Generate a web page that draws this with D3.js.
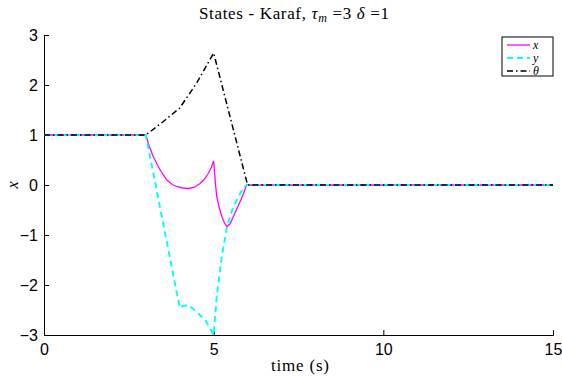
<!DOCTYPE html>
<html><head><meta charset="utf-8">
<script src="https://cdn.jsdelivr.net/npm/d3@7"></script>
<style>body{margin:0;background:#fff}</style>
</head><body>
<script>
const xTicks=[0,5,10,15];
const yTicks=[-3,-2,-1,0,1,2,3];
const seriesNames=["x","y","θ"];
const xT=[0,3,3.1,3.2,3.32,3.45,3.62,3.78,3.91,4.08,4.25,4.42,4.6,4.72,4.84,4.93,5,5.05,5.09,5.16,5.24,5.32,5.39,5.48,5.58,5.68,5.78,5.88,5.97,6.02,15];
const xV=[1,1,0.78,0.6,0.43,0.27,0.1,0.01,-0.03,-0.06,-0.07,-0.05,0.03,0.11,0.23,0.35,0.48,0.05,-0.23,-0.44,-0.63,-0.76,-0.83,-0.78,-0.63,-0.48,-0.33,-0.17,0,0,0];
const yT=[0,3,3.36,4,4.1,4.25,4.5,4.75,5,5.09,5.24,5.39,5.58,5.78,5.92,6,15];
const yV=[1,1,-0.24,-2.46,-2.42,-2.4,-2.54,-2.7,-3,-2.23,-1.43,-0.84,-0.43,-0.17,-0.03,0,0];
const thT=[0,3,3.5,4,4.5,5,6,15];
const thV=[1,1,1.26,1.54,2.04,2.64,0,0];

const W=562,H=379;
const m={l:44,r:9,t:35,b:44};
const serif="Liberation Serif, Times New Roman, serif";
const svg=d3.select("body").append("svg").attr("width",W).attr("height",H);
const x=d3.scaleLinear().domain([0,15]).range([m.l,W-m.r]);
const y=d3.scaleLinear().domain([-3,3]).range([H-m.b,m.t]);

const ax=svg.append("g").attr("transform",`translate(0,${H-m.b})`)
 .call(d3.axisBottom(x).tickValues(xTicks).tickSize(-5).tickPadding(6).tickFormat(d3.format("d")));
const ay=svg.append("g").attr("transform",`translate(${m.l},0)`)
 .call(d3.axisLeft(y).tickValues(yTicks).tickSize(-5).tickPadding(6).tickFormat(d=>d<0?"\u2212"+(-d):d));
[ax,ay].forEach(g=>{
 g.select(".domain").attr("stroke","#000").attr("stroke-width",1);
 g.selectAll(".tick line").attr("stroke","#000");
 g.selectAll("text").attr("font-family","Liberation Sans, Arial, sans-serif").attr("font-size",16).attr("fill","#000");
});
ax.selectAll("text").attr("dy","0.9em");

const line=d3.line().x(d=>x(d[0])).y(d=>y(d[1]));
const mk=(T,V)=>T.map((t,i)=>[t,V[i]]);
const styles=[
 {c:"#ff00ff",w:1.3,da:null},
 {c:"#00ffff",w:1.9,da:"6,4"},
 {c:"#000",w:1.5,da:"6,3,1.5,3"}];
[mk(xT,xV),mk(yT,yV),mk(thT,thV)].forEach((d,i)=>{
 svg.append("path").datum(d).attr("d",line).attr("fill","none")
  .attr("stroke",styles[i].c).attr("stroke-width",styles[i].w)
  .attr("stroke-dasharray",styles[i].da);
});

// title
const title=svg.append("text").attr("x",294).attr("y",19).attr("text-anchor","middle")
 .attr("font-family",serif).attr("font-size",17);
title.append("tspan").text("States - Karaf, ");
title.append("tspan").attr("font-style","italic").text("τ");
title.append("tspan").attr("font-style","italic").attr("font-size",12).attr("dy",3).text("m");
title.append("tspan").attr("dy",-3).text(" =3 ");
title.append("tspan").attr("font-style","italic").text("δ");
title.append("tspan").text(" =1");
title.attr("textLength",190).attr("lengthAdjust","spacing");

// axis labels
svg.append("text").attr("x",300).attr("y",371).attr("text-anchor","middle")
 .attr("font-family",serif).attr("font-size",17).attr("textLength",58).attr("lengthAdjust","spacing").text("time (s)");
svg.append("text").attr("transform","translate(18,185) rotate(-90)").attr("text-anchor","middle")
 .attr("font-family",serif).attr("font-style","italic").attr("font-size",16).text("x");

// legend
const lg=svg.append("g");
lg.append("rect").attr("x",502).attr("y",37).attr("width",51).attr("height",39)
 .attr("fill","#fff").attr("stroke","#000").attr("stroke-width",1);
seriesNames.forEach((n,i)=>{
 const yy=45+i*13;
 lg.append("line").attr("x1",507).attr("x2",530).attr("y1",yy).attr("y2",yy)
  .attr("stroke",styles[i].c).attr("stroke-width",styles[i].w).attr("stroke-dasharray",styles[i].da);
 lg.append("text").attr("x",533).attr("y",yy+4).attr("font-family",serif)
  .attr("font-style","italic").attr("font-size",12).text(n);
});
</script>
</body></html>
